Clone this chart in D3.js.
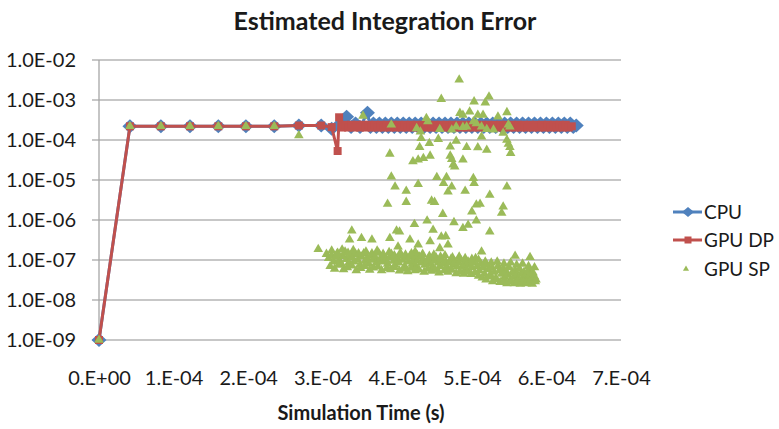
<!DOCTYPE html>
<html>
<head>
<meta charset="utf-8">
<script src="https://cdn.jsdelivr.net/npm/d3@7"></script>
<style>
  body { margin: 0; background: #fff; }
  text { font-family: Lato, "Open Sans", sans-serif; fill: #1a1a1a; }
</style>
</head>
<body>
<svg id="chart" width="779" height="429"></svg>
<script>
// tick values and labels
var xTickValues = [0, 1e-4, 2e-4, 3e-4, 4e-4, 5e-4, 6e-4, 7e-4];
var xTickLabels = ["0.E+00", "1.E-04", "2.E-04", "3.E-04", "4.E-04", "5.E-04", "6.E-04", "7.E-04"];
var yTickValues = [1e-9, 1e-8, 1e-7, 1e-6, 1e-5, 1e-4, 1e-3, 1e-2];
var yTickLabels = ["1.0E-09", "1.0E-08", "1.0E-07", "1.0E-06", "1.0E-05", "1.0E-04", "1.0E-03", "1.0E-02"];

var seriesNames = ["CPU", "GPU DP", "GPU SP"];

// [time (s), error]
var cpuPoints = [
  [0, 1e-9], [0.415e-4, 2.2e-4], [0.83e-4, 2.2e-4], [1.22e-4, 2.2e-4], [1.6e-4, 2.2e-4],
  [1.97e-4, 2.2e-4], [2.35e-4, 2.2e-4], [2.68e-4, 2.3e-4], [2.98e-4, 2.3e-4], [3.12e-4, 1.9e-4],
  [3.22e-4, 2.4e-4], [3.32e-4, 3.8e-4], [3.38e-4, 2.1e-4], [3.44e-4, 2.6e-4], [3.5e-4, 2.1e-4],
  [3.6e-4, 4.8e-4],
  [3.64e-4, 2.1e-4], [3.68e-4, 2.6e-4], [3.72e-4, 2.1e-4], [3.76e-4, 2.6e-4], [3.80e-4, 2.1e-4],
  [3.84e-4, 2.6e-4], [3.88e-4, 2.1e-4], [3.92e-4, 2.6e-4], [3.96e-4, 2.1e-4], [4.00e-4, 2.6e-4],
  [4.04e-4, 2.1e-4], [4.08e-4, 2.6e-4], [4.12e-4, 2.1e-4], [4.16e-4, 2.6e-4], [4.20e-4, 2.1e-4],
  [4.24e-4, 2.6e-4], [4.28e-4, 2.1e-4], [4.32e-4, 2.6e-4], [4.36e-4, 2.1e-4], [4.40e-4, 2.6e-4],
  [4.44e-4, 2.1e-4], [4.48e-4, 2.6e-4], [4.52e-4, 2.1e-4], [4.56e-4, 2.6e-4], [4.60e-4, 2.1e-4],
  [4.64e-4, 2.6e-4], [4.68e-4, 2.1e-4], [4.72e-4, 2.6e-4], [4.76e-4, 2.1e-4], [4.80e-4, 2.6e-4],
  [4.84e-4, 2.1e-4], [4.88e-4, 2.6e-4], [4.92e-4, 2.1e-4], [4.96e-4, 2.6e-4], [5.00e-4, 2.1e-4],
  [5.04e-4, 2.6e-4], [5.08e-4, 2.1e-4], [5.12e-4, 2.6e-4], [5.16e-4, 2.1e-4], [5.20e-4, 2.6e-4],
  [5.24e-4, 2.1e-4], [5.28e-4, 2.6e-4], [5.32e-4, 2.1e-4], [5.36e-4, 2.6e-4], [5.40e-4, 2.1e-4],
  [5.44e-4, 2.6e-4], [5.48e-4, 2.1e-4], [5.52e-4, 2.6e-4], [5.56e-4, 2.1e-4], [5.60e-4, 2.6e-4],
  [5.64e-4, 2.1e-4], [5.68e-4, 2.6e-4], [5.72e-4, 2.1e-4], [5.76e-4, 2.6e-4], [5.80e-4, 2.1e-4],
  [5.84e-4, 2.6e-4], [5.88e-4, 2.1e-4], [5.92e-4, 2.6e-4], [5.96e-4, 2.1e-4], [6.00e-4, 2.6e-4],
  [6.04e-4, 2.1e-4], [6.08e-4, 2.6e-4], [6.12e-4, 2.1e-4], [6.16e-4, 2.6e-4], [6.20e-4, 2.1e-4],
  [6.24e-4, 2.6e-4], [6.28e-4, 2.1e-4], [6.32e-4, 2.6e-4], [6.36e-4, 2.1e-4], [6.40e-4, 2.3e-4]
];

var dpPoints = [
  [0, 1e-9], [0.415e-4, 2.2e-4], [0.83e-4, 2.2e-4], [1.22e-4, 2.2e-4], [1.6e-4, 2.2e-4],
  [1.97e-4, 2.2e-4], [2.35e-4, 2.2e-4], [2.68e-4, 2.3e-4], [2.98e-4, 2.3e-4], [3.12e-4, 2.1e-4],
  [3.2e-4, 5.3e-5], [3.22e-4, 3.7e-4],
  [3.26e-4, 2.05e-4], [3.30e-4, 2.4e-4], [3.34e-4, 2.05e-4], [3.38e-4, 2.4e-4], [3.42e-4, 2.05e-4],
  [3.46e-4, 2.4e-4], [3.50e-4, 2.05e-4], [3.54e-4, 2.4e-4], [3.58e-4, 2.05e-4], [3.62e-4, 2.4e-4],
  [3.66e-4, 2.05e-4], [3.70e-4, 2.4e-4], [3.74e-4, 2.05e-4], [3.78e-4, 2.4e-4], [3.82e-4, 2.05e-4],
  [3.86e-4, 2.4e-4], [3.90e-4, 2.05e-4], [3.94e-4, 2.4e-4], [3.98e-4, 2.05e-4], [4.02e-4, 2.4e-4],
  [4.06e-4, 2.05e-4], [4.10e-4, 2.4e-4], [4.14e-4, 2.05e-4], [4.18e-4, 2.4e-4], [4.22e-4, 2.05e-4],
  [4.26e-4, 2.4e-4], [4.30e-4, 2.05e-4], [4.34e-4, 2.4e-4], [4.38e-4, 2.05e-4], [4.42e-4, 2.4e-4],
  [4.46e-4, 2.05e-4], [4.50e-4, 2.4e-4], [4.54e-4, 2.05e-4], [4.58e-4, 2.4e-4], [4.62e-4, 2.05e-4],
  [4.66e-4, 2.4e-4], [4.70e-4, 2.05e-4], [4.74e-4, 2.4e-4], [4.78e-4, 2.05e-4], [4.82e-4, 2.4e-4],
  [4.86e-4, 2.05e-4], [4.90e-4, 2.4e-4], [4.94e-4, 2.05e-4], [4.98e-4, 2.4e-4], [5.02e-4, 2.05e-4],
  [5.06e-4, 2.4e-4], [5.10e-4, 2.05e-4], [5.14e-4, 2.4e-4], [5.18e-4, 2.05e-4], [5.22e-4, 2.4e-4],
  [5.26e-4, 2.05e-4], [5.30e-4, 2.4e-4], [5.34e-4, 2.05e-4], [5.38e-4, 2.4e-4], [5.42e-4, 2.05e-4],
  [5.46e-4, 2.4e-4], [5.50e-4, 2.05e-4], [5.54e-4, 2.4e-4], [5.58e-4, 2.05e-4], [5.62e-4, 2.4e-4],
  [5.66e-4, 2.05e-4], [5.70e-4, 2.4e-4], [5.74e-4, 2.05e-4], [5.78e-4, 2.4e-4], [5.82e-4, 2.05e-4],
  [5.86e-4, 2.4e-4], [5.90e-4, 2.05e-4], [5.94e-4, 2.4e-4], [5.98e-4, 2.05e-4], [6.02e-4, 2.4e-4],
  [6.06e-4, 2.05e-4], [6.10e-4, 2.4e-4], [6.14e-4, 2.05e-4], [6.18e-4, 2.4e-4], [6.22e-4, 2.05e-4],
  [6.26e-4, 2.4e-4], [6.30e-4, 2.05e-4], [6.34e-4, 2.2e-4]
];

var spPoints = [
  [0, 1e-9], [0.415e-4, 2.2e-4], [0.83e-4, 2.2e-4], [1.22e-4, 2.2e-4], [1.6e-4, 2.2e-4],
  [1.97e-4, 2.2e-4], [2.35e-4, 2.2e-4], [2.68e-4, 1.3e-4], [3.54e-4, 4e-4],
  // sparse upper scatter
  [4.83e-4, 3.2e-3], [4.59e-4, 1.05e-3], [5.03e-4, 9.1e-4], [5.18e-4, 8.6e-4], [5.23e-4, 1.2e-3],
  [4.84e-4, 4.7e-4], [4.88e-4, 4.2e-4], [4.97e-4, 5.1e-4], [5.08e-4, 4.2e-4], [5.15e-4, 4.2e-4],
  [5.35e-4, 3.8e-4], [5.47e-4, 4.9e-4], [4.39e-4, 3.5e-4], [4.41e-4, 2.9e-4], [3.92e-4, 2.4e-4],
  [4.26e-4, 1.95e-4], [4.31e-4, 1.6e-4], [4.57e-4, 1.85e-4], [4.73e-4, 1.8e-4], [4.79e-4, 2.15e-4],
  [4.88e-4, 2.1e-4], [4.93e-4, 2.15e-4], [5.02e-4, 2.9e-4], [5.06e-4, 2.6e-4], [5.13e-4, 2.15e-4],
  [5.2e-4, 1.85e-4], [5.29e-4, 1.8e-4], [5.42e-4, 1.5e-4], [5.49e-4, 2.4e-4], [5.51e-4, 2.15e-4],
  [4.32e-4, 1.1e-4], [4.55e-4, 1.05e-4], [4.79e-4, 9.4e-5], [5.13e-4, 1.2e-4], [5.47e-4, 1e-4],
  [5.49e-4, 7.9e-5], [5.51e-4, 6.6e-5], [5.52e-4, 4.7e-5], [3.9e-4, 4.5e-5], [4.3e-4, 6.6e-5],
  [4.43e-4, 8.3e-5], [4.71e-4, 6.8e-5], [4.93e-4, 6.6e-5], [5.08e-4, 6.5e-5], [5.2e-4, 5.6e-5],
  [4.21e-4, 2.9e-5], [4.28e-4, 3.2e-5], [4.35e-4, 3.5e-5], [4.44e-4, 4e-5], [4.71e-4, 4e-5],
  [4.73e-4, 3.3e-5], [4.75e-4, 2.4e-5], [4.77e-4, 2.15e-5], [4.88e-4, 3.2e-5], [3.92e-4, 1.2e-5],
  [4.53e-4, 1.17e-5], [4.66e-4, 1.17e-5], [5.02e-4, 1.1e-5],
  [3.97e-4, 6.8e-6], [4.12e-4, 5.3e-6], [4.28e-4, 7.8e-6], [4.62e-4, 8.3e-6], [4.68e-4, 5.1e-6],
  [4.73e-4, 6.8e-6], [4.91e-4, 5.3e-6], [5.03e-4, 8.3e-6], [5.24e-4, 4.2e-6], [5.47e-4, 6.8e-6],
  [3.87e-4, 2.5e-6], [4.12e-4, 2.8e-6], [4.46e-4, 3e-6], [4.5e-4, 2.8e-6], [4.61e-4, 1.4e-6],
  [5.0e-4, 1.6e-6], [5.06e-4, 2.4e-6], [5.11e-4, 2.5e-6], [5.42e-4, 2.15e-6], [5.4e-4, 1.5e-6],
  [4.4e-4, 9.6e-7], [4.76e-4, 8.7e-7], [4.88e-4, 6.2e-7], [4.95e-4, 7.5e-7], [5.06e-4, 9.6e-7],
  [5.24e-4, 5.1e-7], [4.23e-4, 7.8e-7], [3.99e-4, 5.4e-7], [4.03e-4, 5.1e-7], [3.39e-4, 5.4e-7],
  [3.9e-4, 3.5e-7], [4.17e-4, 3.2e-7], [4.28e-4, 2.4e-7], [4.44e-4, 2.9e-7], [4.48e-4, 5.6e-7],
  [4.59e-4, 3.8e-7], [4.65e-4, 3.9e-7], [4.68e-4, 2.4e-7], [4.57e-4, 1.95e-7], [3.36e-4, 3.2e-7],
  [3.52e-4, 3.5e-7], [3.66e-4, 3.2e-7], [2.94e-4, 1.85e-7], [3.05e-4, 1.4e-7], [4.01e-4, 2.15e-7],
  [4.24e-4, 1.6e-7], [5.13e-4, 1.6e-7], [5.58e-4, 1.26e-7], [5.78e-4, 1.17e-7],
  // dense lower band, middle row
  [3.08e-4, 1.1e-7], [3.12e-4, 1.3e-7], [3.15e-4, 9e-8], [3.18e-4, 1.2e-7], [3.2e-4, 1.5e-7],
  [3.22e-4, 1.0e-7], [3.25e-4, 8e-8], [3.27e-4, 1.25e-7], [3.3e-4, 1.6e-7], [3.32e-4, 1.05e-7],
  [3.35e-4, 8.5e-8], [3.37e-4, 1.3e-7], [3.4e-4, 1.15e-7], [3.42e-4, 9e-8], [3.44e-4, 1.4e-7],
  [3.47e-4, 1.0e-7], [3.5e-4, 7.5e-8], [3.52e-4, 1.2e-7], [3.55e-4, 1.45e-7], [3.57e-4, 9.5e-8],
  [3.6e-4, 1.1e-7], [3.62e-4, 8e-8], [3.65e-4, 1.3e-7], [3.67e-4, 1.0e-7], [3.7e-4, 1.2e-7],
  [3.72e-4, 8.5e-8], [3.75e-4, 1.5e-7], [3.77e-4, 1.05e-7], [3.8e-4, 9e-8], [3.82e-4, 1.25e-7],
  [3.85e-4, 1.0e-7], [3.87e-4, 8e-8], [3.9e-4, 1.15e-7], [3.92e-4, 1.4e-7], [3.95e-4, 9.5e-8],
  [3.97e-4, 7.5e-8], [4.0e-4, 1.1e-7], [4.02e-4, 8.5e-8], [4.05e-4, 1.3e-7], [4.07e-4, 1.0e-7],
  [4.1e-4, 7e-8], [4.12e-4, 1.15e-7], [4.15e-4, 9e-8], [4.17e-4, 1.25e-7], [4.2e-4, 8e-8],
  [4.22e-4, 1.05e-7], [4.25e-4, 6.8e-8], [4.27e-4, 9.5e-8], [4.3e-4, 1.2e-7], [4.32e-4, 8.5e-8],
  [4.35e-4, 1.0e-7], [4.37e-4, 7.5e-8], [4.4e-4, 9e-8], [4.42e-4, 1.1e-7], [4.45e-4, 8e-8],
  [4.47e-4, 6.5e-8], [4.5e-4, 9.5e-8], [4.52e-4, 1.15e-7], [4.55e-4, 8.5e-8], [4.57e-4, 7e-8],
  [4.6e-4, 1.0e-7], [4.62e-4, 8e-8], [4.65e-4, 9e-8], [4.67e-4, 6.5e-8], [4.7e-4, 8.5e-8],
  [4.72e-4, 1.05e-7], [4.75e-4, 7.5e-8], [4.77e-4, 9e-8], [4.8e-4, 6.8e-8], [4.82e-4, 8.5e-8],
  [4.85e-4, 1.0e-7], [4.87e-4, 7e-8], [4.9e-4, 8e-8], [4.92e-4, 6.2e-8], [4.95e-4, 9e-8],
  [4.97e-4, 7.5e-8], [5.0e-4, 6.5e-8], [5.02e-4, 8.5e-8], [5.05e-4, 1.1e-7], [5.07e-4, 7e-8],
  [5.1e-4, 5.5e-8], [5.12e-4, 8e-8], [5.15e-4, 6.5e-8], [5.17e-4, 4.5e-8], [5.2e-4, 7.5e-8],
  [5.22e-4, 5.8e-8], [5.25e-4, 4.2e-8], [5.27e-4, 6.5e-8], [5.3e-4, 5e-8], [5.32e-4, 3.5e-8],
  [5.35e-4, 7e-8], [5.37e-4, 5.5e-8], [5.4e-4, 4.5e-8], [5.42e-4, 6e-8], [5.44e-4, 3.8e-8],
  [5.46e-4, 5.2e-8], [5.48e-4, 4.2e-8], [5.5e-4, 6.5e-8], [5.52e-4, 3.2e-8], [5.54e-4, 4.8e-8],
  [5.56e-4, 3.8e-8], [5.58e-4, 5.5e-8], [5.6e-4, 4.2e-8], [5.62e-4, 3.3e-8], [5.64e-4, 6e-8],
  [5.66e-4, 4.5e-8], [5.68e-4, 3.5e-8], [5.7e-4, 5e-8], [5.72e-4, 4e-8], [5.74e-4, 3.1e-8],
  [5.76e-4, 5.5e-8], [5.78e-4, 4.2e-8], [5.8e-4, 3.4e-8], [5.82e-4, 4.8e-8], [5.84e-4, 3.8e-8],
  [5.86e-4, 3.2e-8],
  // dense lower band, bottom row
  [3.10e-4, 7e-8], [3.16e-4, 6e-8], [3.21e-4, 7.5e-8], [3.28e-4, 5.8e-8], [3.33e-4, 6.5e-8],
  [3.39e-4, 7.2e-8], [3.45e-4, 5.5e-8], [3.51e-4, 6.2e-8], [3.56e-4, 7e-8], [3.63e-4, 5.6e-8],
  [3.68e-4, 6.4e-8], [3.74e-4, 6.8e-8], [3.79e-4, 5.5e-8], [3.86e-4, 6.2e-8], [3.91e-4, 5.8e-8],
  [3.96e-4, 6.6e-8], [4.03e-4, 5.4e-8], [4.08e-4, 6e-8], [4.14e-4, 5.2e-8], [4.19e-4, 6.3e-8],
  [4.24e-4, 5.5e-8], [4.29e-4, 5.8e-8], [4.36e-4, 5e-8], [4.41e-4, 6e-8], [4.46e-4, 5.3e-8],
  [4.51e-4, 5.6e-8], [4.56e-4, 4.8e-8], [4.63e-4, 5.5e-8], [4.68e-4, 5e-8], [4.73e-4, 5.6e-8],
  [4.79e-4, 4.6e-8], [4.84e-4, 5.2e-8], [4.89e-4, 4.5e-8], [4.94e-4, 5e-8], [4.99e-4, 4.4e-8],
  [5.04e-4, 4.8e-8], [5.09e-4, 4e-8], [5.14e-4, 3.6e-8], [5.19e-4, 3.2e-8], [5.23e-4, 3.8e-8],
  [5.28e-4, 2.9e-8], [5.33e-4, 3.3e-8], [5.38e-4, 2.8e-8], [5.43e-4, 3e-8], [5.47e-4, 2.6e-8],
  [5.53e-4, 2.9e-8], [5.57e-4, 2.6e-8], [5.61e-4, 2.8e-8], [5.65e-4, 2.5e-8], [5.69e-4, 2.9e-8],
  [5.73e-4, 2.6e-8], [5.77e-4, 2.8e-8], [5.81e-4, 2.5e-8], [5.85e-4, 2.9e-8],
  // dense lower band, top row
  [3.12e-4, 1.7e-7], [3.19e-4, 1.4e-7], [3.26e-4, 1.8e-7], [3.34e-4, 1.5e-7], [3.41e-4, 1.75e-7],
  [3.48e-4, 1.45e-7], [3.58e-4, 1.6e-7], [3.66e-4, 1.45e-7], [3.73e-4, 1.7e-7], [3.81e-4, 1.4e-7],
  [3.89e-4, 1.55e-7], [3.96e-4, 1.3e-7], [4.04e-4, 1.5e-7], [4.11e-4, 1.35e-7], [4.19e-4, 1.45e-7],
  [4.27e-4, 1.3e-7], [4.34e-4, 1.4e-7], [4.43e-4, 1.25e-7], [4.49e-4, 1.35e-7], [4.58e-4, 1.2e-7],
  [4.64e-4, 1.3e-7], [4.74e-4, 1.15e-7], [4.83e-4, 1.2e-7], [4.91e-4, 1.1e-7], [5.0e-4, 1.05e-7],
  [5.09e-4, 1.0e-7], [5.18e-4, 9e-8], [5.26e-4, 8.5e-8], [5.34e-4, 9e-8], [5.43e-4, 8e-8],
  [5.52e-4, 8.5e-8], [5.6e-4, 7.5e-8], [5.68e-4, 8e-8], [5.76e-4, 7e-8], [5.84e-4, 6.5e-8]
];

var colors = { cpu: "#4F81BD", dp: "#C0504D", sp: "#9BBB59" };

var svg = d3.select("#chart");

var x = d3.scaleLinear().domain([0, 7e-4]).range([99, 621]);
var y = d3.scaleLog().domain([1e-9, 1e-2]).range([340, 60]);

// horizontal gridlines (with small outside tick)
svg.selectAll("line.grid")
  .data(yTickValues)
  .enter()
  .append("line")
  .attr("class", "grid")
  .attr("x1", x(0) - 7)
  .attr("x2", x(7e-4))
  .attr("y1", function(d) { return y(d); })
  .attr("y2", function(d) { return y(d); })
  .attr("stroke", "#b5b5b5")
  .attr("stroke-width", 1.3);

// vertical axis line
svg.append("line")
  .attr("x1", x(0)).attr("x2", x(0))
  .attr("y1", y(1e-2)).attr("y2", y(1e-9))
  .attr("stroke", "#a6a6a6")
  .attr("stroke-width", 1.3);

// y axis labels
var yAxis = d3.axisLeft(y)
  .tickValues(yTickValues)
  .tickFormat(function(d, i) { return yTickLabels[i]; })
  .tickSize(0)
  .tickPadding(23);
var gy = svg.append("g").attr("transform", "translate(" + x(0) + ",0)").call(yAxis);
gy.select(".domain").remove();
gy.selectAll("text").attr("font-size", 20).attr("font-family", "Lato").attr("fill", "#1a1a1a");

// x axis labels
var xAxis = d3.axisBottom(x)
  .tickValues(xTickValues)
  .tickFormat(function(d, i) { return xTickLabels[i]; })
  .tickSize(0)
  .tickPadding(31);
var gx = svg.append("g").attr("transform", "translate(0," + y(1e-9) + ")").call(xAxis);
gx.select(".domain").remove();
gx.selectAll("text").attr("font-size", 20).attr("font-family", "Lato").attr("fill", "#1a1a1a");

// titles
svg.append("text")
  .attr("x", 385).attr("y", 30)
  .attr("text-anchor", "middle")
  .attr("font-size", 25).attr("font-weight", "bold")
  .text("Estimated Integration Error");

svg.append("text")
  .attr("x", 361).attr("y", 420)
  .attr("text-anchor", "middle")
  .attr("font-size", 20).attr("font-weight", "bold")
  .text("Simulation Time (s)");

var line = d3.line()
  .x(function(d) { return x(d[0]); })
  .y(function(d) { return y(d[1]); });

var diamondPath = "M0,-7L7.5,0L0,7L-7.5,0Z";
var squarePath = "M-4,-4L4,-4L4,4L-4,4Z";
var trianglePath = d3.symbol().type(d3.symbolTriangle).size(40)();

// CPU
svg.append("path")
  .datum(cpuPoints)
  .attr("d", line)
  .attr("fill", "none")
  .attr("stroke", colors.cpu)
  .attr("stroke-width", 3)
  .attr("stroke-linejoin", "round");
svg.selectAll("path.cpu")
  .data(cpuPoints)
  .enter()
  .append("path")
  .attr("class", "cpu")
  .attr("d", diamondPath)
  .attr("fill", colors.cpu)
  .attr("transform", function(d) { return "translate(" + x(d[0]) + "," + y(d[1]) + ")"; });

// GPU DP
svg.append("path")
  .datum(dpPoints)
  .attr("d", line)
  .attr("fill", "none")
  .attr("stroke", colors.dp)
  .attr("stroke-width", 3)
  .attr("stroke-linejoin", "round");
svg.selectAll("path.dp")
  .data(dpPoints)
  .enter()
  .append("path")
  .attr("class", "dp")
  .attr("d", squarePath)
  .attr("fill", colors.dp)
  .attr("transform", function(d) { return "translate(" + x(d[0]) + "," + y(d[1]) + ")"; });

// GPU SP (markers only)
svg.selectAll("path.sp")
  .data(spPoints)
  .enter()
  .append("path")
  .attr("class", "sp")
  .attr("d", trianglePath)
  .attr("fill", colors.sp)
  .attr("transform", function(d) { return "translate(" + x(d[0]) + "," + y(d[1]) + ")"; });

// legend
var legendY = [212, 240, 269];
var legend = svg.selectAll("g.legend")
  .data(seriesNames)
  .enter()
  .append("g")
  .attr("class", "legend")
  .attr("transform", function(d, i) { return "translate(673," + legendY[i] + ")"; });

legend.filter(function(d, i) { return i < 2; })
  .append("line")
  .attr("x1", 0).attr("x2", 29)
  .attr("stroke", function(d, i) { return i === 0 ? colors.cpu : colors.dp; })
  .attr("stroke-width", 3);
legend.append("path")
  .attr("d", function(d, i) {
    if (i === 0) return "M0,-5L6,0L0,5L-6,0Z";
    if (i === 1) return "M-3.5,-3.5L3.5,-3.5L3.5,3.5L-3.5,3.5Z";
    return d3.symbol().type(d3.symbolTriangle).size(16)();
  })
  .attr("transform", function(d, i) { return i === 2 ? "translate(13,0)" : "translate(15,0)"; })
  .attr("fill", function(d, i) { return [colors.cpu, colors.dp, colors.sp][i]; });
legend.append("text")
  .attr("x", 31)
  .attr("y", 6.5)
  .attr("font-size", 19)
  .text(function(d) { return d; });
</script>
</body>
</html>
